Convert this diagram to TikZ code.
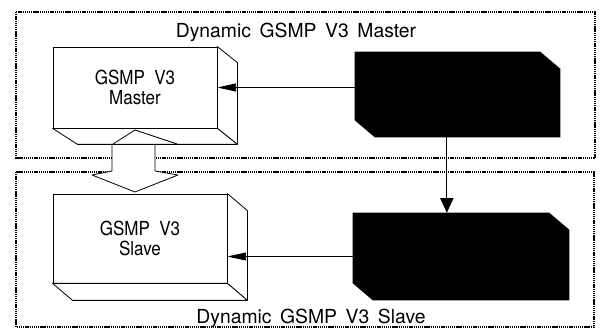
\documentclass[tikz,border=0pt]{standalone}
\usepackage{fontspec}
\setmainfont{TeX Gyre Heros}
\newfontfamily\boxfont[FakeStretch=0.88]{TeX Gyre Heros}
\usetikzlibrary{arrows.meta}
\tikzset{
	region/.style={line width=1.1pt,dash pattern=on 1pt off 0.6pt},
	front/.style={draw,fill=white,line width=0.6pt,align=center,inner sep=0pt,font=\boxfont\fontsize{14.5}{15.5}\selectfont},
	face/.style={draw,fill=white,line width=0.6pt,line join=round},
	solidbox/.style={inner sep=0pt},
	title/.style={font=\fontsize{14.5}{15.5}\selectfont,inner sep=0pt},
	link/.style={line width=0.6pt,-{Triangle[length=14pt,width=6pt]}},
	drop/.style={line width=0.6pt,-{Triangle[length=11pt,width=10pt]}}
}
\begin{document}
\begin{tikzpicture}[x=0.75pt,y=-0.75pt]
	\useasboundingbox (0,0) rectangle (604,331);
	\draw[region] (16,12) rectangle (595,158);
	\draw[region] (16,172) rectangle (594,327);
	\node[title] (mtitle) at (296,32) {Dynamic\ \,GSMP\ \,V3\ \,Master};
	\node[title] (stitle) at (311,318) {Dynamic\ \,GSMP\ \,V3\ \,Slave};
	\node[front,minimum width=123pt,minimum height=60.75pt] (master) at (135,87.5) {GSMP\ \ V3\\Master};
	\node[front,minimum width=130.5pt,minimum height=66.75pt] (slave) at (140,238.5) {GSMP\ \ V3\\Slave};
	\draw[face] (112,140) -- (112,171) -- (92,175) -- (135,192) -- (178,175) -- (155,171) -- (155,140) -- cycle;
	\draw[face] (master.north east) -- ++(20,16) -- ([shift={(20,16)}]master.south east) -- (master.south east) -- cycle;
	\draw[face] (master.south west) -- ++(25,16) -- ([shift={(20,16)}]master.south east) -- (master.south east) -- cycle;
	\draw[line width=0.6pt] (113,144) -- (135,130) -- (177,144);
	\node[front,minimum width=123pt,minimum height=60.75pt] at (master) {GSMP\ \ V3\\Master};
	\draw[face] (slave.north east) -- ++(20,17) -- ([shift={(20,17)}]slave.south east) -- (slave.south east) -- cycle;
	\draw[face] (slave.south west) -- ++(20,17) -- ([shift={(20,17)}]slave.south east) -- (slave.south east) -- cycle;
	\node[solidbox,minimum width=153.75pt,minimum height=63.75pt] (mgr) at (457.5,94.5) {};
	\node[solidbox,minimum width=162pt,minimum height=65.25pt] (sgr) at (461,256.5) {};
	\fill (mgr.north west) -- ([xshift=-15pt]mgr.north east) -- ([yshift=-12.75pt]mgr.north east) -- (mgr.south east) -- ([xshift=15pt]mgr.south west) -- ([yshift=12.75pt]mgr.south west) -- cycle;
	\fill (sgr.north west) -- ([xshift=-15pt]sgr.north east) -- ([yshift=-12.75pt]sgr.north east) -- (sgr.south east) -- ([xshift=15pt]sgr.south west) -- ([yshift=12.75pt]sgr.south west) -- cycle;
	\draw[link] (mgr.west |- master.east) -- (master.east);
	\draw[link] (sgr.west) -- (sgr.west -| slave.east);
	\draw[drop] ([xshift=-8pt]mgr.south) -- ([xshift=-8pt]mgr.south |- sgr.north);
\end{tikzpicture}
\end{document}
